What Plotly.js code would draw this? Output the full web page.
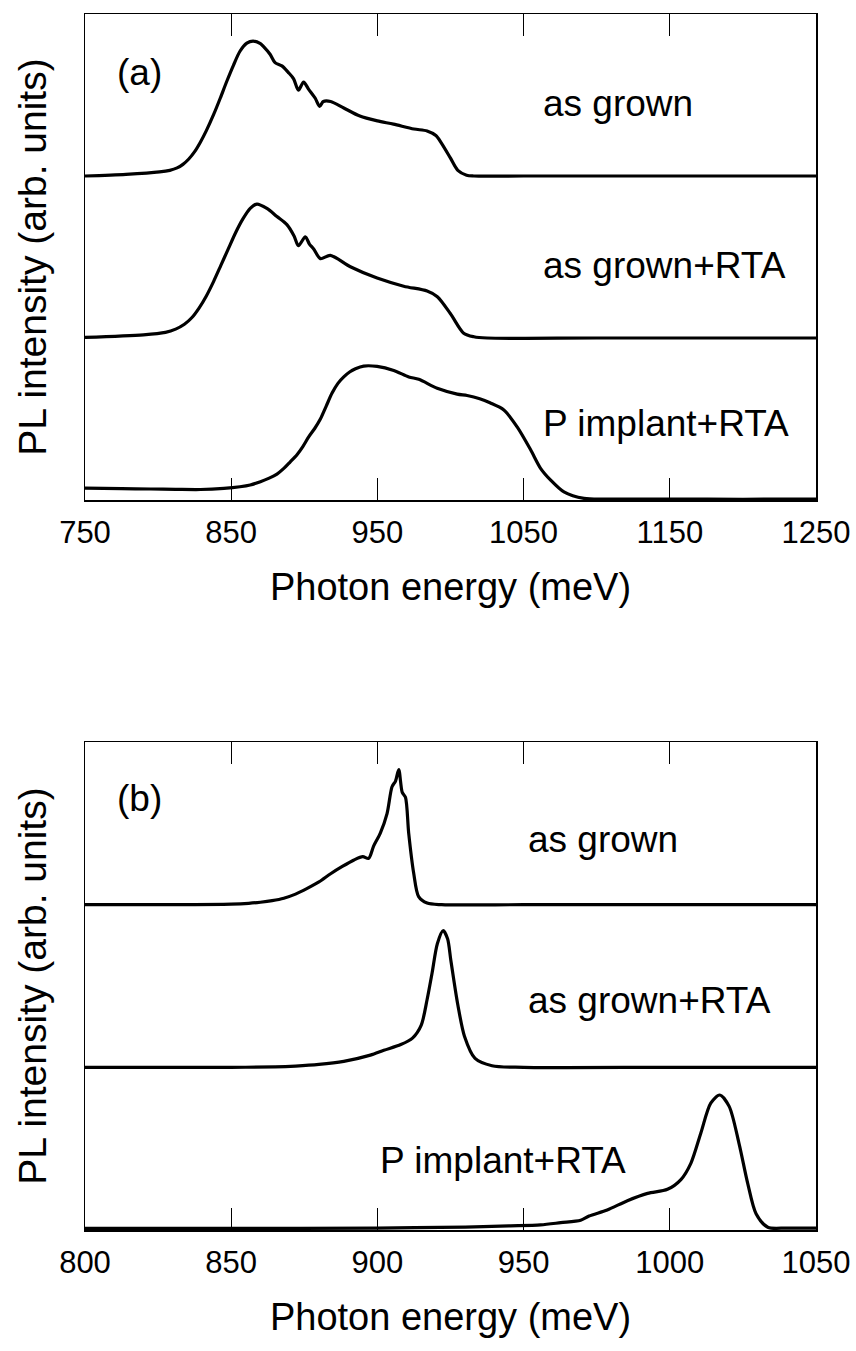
<!DOCTYPE html>
<html>
<head>
<meta charset="utf-8">
<script src="https://cdn.plot.ly/plotly-3.0.1.min.js"></script>
<style>
  html, body { margin: 0; padding: 0; background: #fff; }
  #plot { width: 856px; height: 1351px; }
</style>
</head>
<body>
<div id="plot"></div>
<script>
// PL spectra, normalised intensity (arb. units), stacked with vertical offsets.

// ---- Panel (a): 750-1250 meV ----
const aGrownE = [750, 778, 801, 808, 813, 817, 821, 825, 829, 833, 838, 842.5, 847, 851.6, 856, 860.7, 865, 870, 872, 876.7, 880, 884.7, 889, 892.7, 896, 899.5, 903, 907.5, 910.5, 913, 918, 927, 938, 950, 961, 975, 984, 990, 994, 1000, 1005, 1011, 1016, 1050, 1150, 1250];
const aGrownI = [0, 0.01, 0.025, 0.035, 0.05, 0.072, 0.105, 0.15, 0.21, 0.28, 0.38, 0.48, 0.585, 0.685, 0.77, 0.82, 0.833, 0.817, 0.80, 0.75, 0.70, 0.68, 0.64, 0.60, 0.53, 0.58, 0.535, 0.48, 0.43, 0.46, 0.46, 0.42, 0.37, 0.34, 0.32, 0.29, 0.278, 0.25, 0.2, 0.11, 0.035, 0.005, 0, 0, 0, 0];

const aRtaE = [750, 790, 805, 812, 818, 823, 828, 833, 838, 843, 848, 853, 858, 863, 867.6, 874.4, 881.3, 888.1, 893, 896, 900.7, 903.5, 906.4, 911, 917.8, 931.5, 949.8, 968, 984, 991, 1000, 1009, 1016, 1025, 1100, 1250];
const aRtaI = [0.004, 0.02, 0.035, 0.055, 0.085, 0.125, 0.185, 0.26, 0.35, 0.45, 0.55, 0.65, 0.735, 0.80, 0.827, 0.80, 0.75, 0.70, 0.63, 0.57, 0.625, 0.58, 0.55, 0.49, 0.51, 0.44, 0.37, 0.32, 0.29, 0.255, 0.15, 0.03, 0.008, 0, 0, 0];

const aImplE = [750, 775, 795, 812, 829, 845, 856, 863, 870, 876, 881.3, 886, 890.4, 895, 899, 903, 907, 911, 915, 919, 923, 927, 931, 935, 940.6, 949.8, 961.2, 971.5, 978.3, 990.9, 1004.6, 1011.4, 1020, 1027, 1036.5, 1045.7, 1054.8, 1061.6, 1068.5, 1077.6, 1091.3, 1110, 1150, 1200, 1250];
const aImplI = [0.074, 0.07, 0.068, 0.066, 0.065, 0.072, 0.082, 0.093, 0.113, 0.135, 0.16, 0.195, 0.236, 0.28, 0.33, 0.39, 0.44, 0.5, 0.58, 0.66, 0.72, 0.76, 0.79, 0.81, 0.827, 0.825, 0.80, 0.76, 0.745, 0.69, 0.654, 0.645, 0.625, 0.60, 0.556, 0.45, 0.31, 0.196, 0.123, 0.05, 0.01, 0.006, 0.006, 0.005, 0.006];

// ---- Panel (b): 800-1050 meV ----
const bGrownE = [800, 830, 850, 856, 860, 864, 868, 872, 876, 880, 884, 888, 892, 895, 897, 898.7, 901, 903.3, 905, 906.2, 907.3, 908.5, 909.6, 910.7, 912.4, 914.1, 917, 922, 950, 1000, 1050];
const bGrownI = [0, 0, 0.003, 0.008, 0.015, 0.025, 0.04, 0.065, 0.10, 0.14, 0.19, 0.235, 0.275, 0.295, 0.285, 0.36, 0.44, 0.56, 0.725, 0.76, 0.83, 0.69, 0.66, 0.44, 0.195, 0.05, 0.01, 0, 0, 0, 0];

const bRtaE = [800, 850, 865, 872, 880, 888.5, 897.6, 902.2, 908, 912, 915, 917, 918.7, 920.5, 922.5, 924, 925.1, 927.5, 929.8, 933.4, 939.2, 950, 1000, 1050];
const bRtaI = [0, 0, 0.003, 0.008, 0.018, 0.037, 0.075, 0.105, 0.14, 0.18, 0.26, 0.417, 0.58, 0.76, 0.84, 0.79, 0.66, 0.385, 0.19, 0.055, 0.01, 0, 0, 0];

const bImplE = [800, 850, 900, 930, 945, 955.8, 962.7, 969.5, 972.4, 978.6, 985.5, 992.4, 999.2, 1003.8, 1007.2, 1010.6, 1014, 1017.1, 1020.3, 1023.7, 1026.6, 1029.5, 1033.5, 1040, 1050];
const bImplI = [0.01, 0.01, 0.012, 0.018, 0.025, 0.031, 0.045, 0.06, 0.086, 0.123, 0.18, 0.225, 0.25, 0.31, 0.41, 0.595, 0.78, 0.83, 0.76, 0.53, 0.29, 0.10, 0.017, 0.012, 0.012];

// vertical offsets of the stacked spectra (top, middle, bottom)
const offsets = [2, 1, 0];
const sampleLabels = ['as grown', 'as grown+RTA', 'P implant+RTA'];

const FONT = 'Liberation Sans, Arial, sans-serif';

function stacked(E, I, off, xa, ya) {
  return {
    x: E, y: I.map(v => v + off), xaxis: xa, yaxis: ya,
    type: 'scatter', mode: 'lines', hoverinfo: 'skip',
    line: { color: '#000', width: 3.2, shape: 'spline', smoothing: 0.8 }
  };
}

const traces = [
  stacked(aGrownE, aGrownI, offsets[0], 'x', 'y'),
  stacked(aRtaE, aRtaI, offsets[1], 'x', 'y'),
  stacked(aImplE, aImplI, offsets[2], 'x', 'y'),
  stacked(bGrownE, bGrownI, offsets[0], 'x2', 'y2'),
  stacked(bRtaE, bRtaI, offsets[1], 'x2', 'y2'),
  stacked(bImplE, bImplI, offsets[2], 'x2', 'y2')
];

function xAxis(range, dtick, anchor) {
  return {
    anchor: anchor, domain: [0, 1], range: range, tick0: range[0], dtick: dtick,
    showline: true, mirror: 'ticks', linecolor: '#000', linewidth: 1.5,
    ticks: 'inside', ticklen: 22, tickwidth: 1, tickcolor: '#000',
    showgrid: false, zeroline: false, ticklabelstandoff: 4,
    tickfont: { family: FONT, size: 31, color: '#000' },
    title: { text: 'Photon energy (meV)', font: { family: FONT, size: 38, color: '#000' }, standoff: 24 }
  };
}
function yAxis(domain, anchor) {
  return {
    anchor: anchor, domain: domain, range: [0, 3],
    showline: true, mirror: true, linecolor: '#000', linewidth: 1.5,
    ticks: '', showticklabels: false, showgrid: false, zeroline: false,
    title: { text: 'PL intensity (arb. units)', font: { family: FONT, size: 39, color: '#000' }, standoff: 25 }
  };
}

const ann = [];
function label(text, x, y, xa, ya, anchor) {
  ann.push({ text: text, x: x, y: y, xref: xa, yref: ya, xanchor: anchor, yanchor: 'middle',
             showarrow: false, font: { family: FONT, size: 37, color: '#000' } });
}
label('(a)', 787, 2.64, 'x', 'y', 'center');
label(sampleLabels[0], 1061.6, 2.45, 'x', 'y', 'left');
label(sampleLabels[1], 1061.6, 1.45, 'x', 'y', 'left');
label(sampleLabels[2], 1061.6, 0.475, 'x', 'y', 'left');
label('(b)', 818.5, 2.655, 'x2', 'y2', 'center');
label(sampleLabels[0], 950.7, 2.40, 'x2', 'y2', 'left');
label(sampleLabels[1], 950.7, 1.41, 'x2', 'y2', 'left');
label(sampleLabels[2], 900.3, 0.43, 'x2', 'y2', 'left');

const layout = {
  width: 856, height: 1351,
  margin: { l: 85, r: 40, t: 14, b: 121 },
  paper_bgcolor: '#fff', plot_bgcolor: '#fff',
  showlegend: false,
  xaxis: xAxis([750, 1250], 100, 'y'),
  yaxis: yAxis([0.6003, 1], 'x'),
  xaxis2: xAxis([800, 1050], 50, 'y2'),
  yaxis2: yAxis([0, 0.4013], 'x2'),
  annotations: ann
};

Plotly.newPlot('plot', traces, layout, { displayModeBar: false, staticPlot: true });
</script>
</body>
</html>
